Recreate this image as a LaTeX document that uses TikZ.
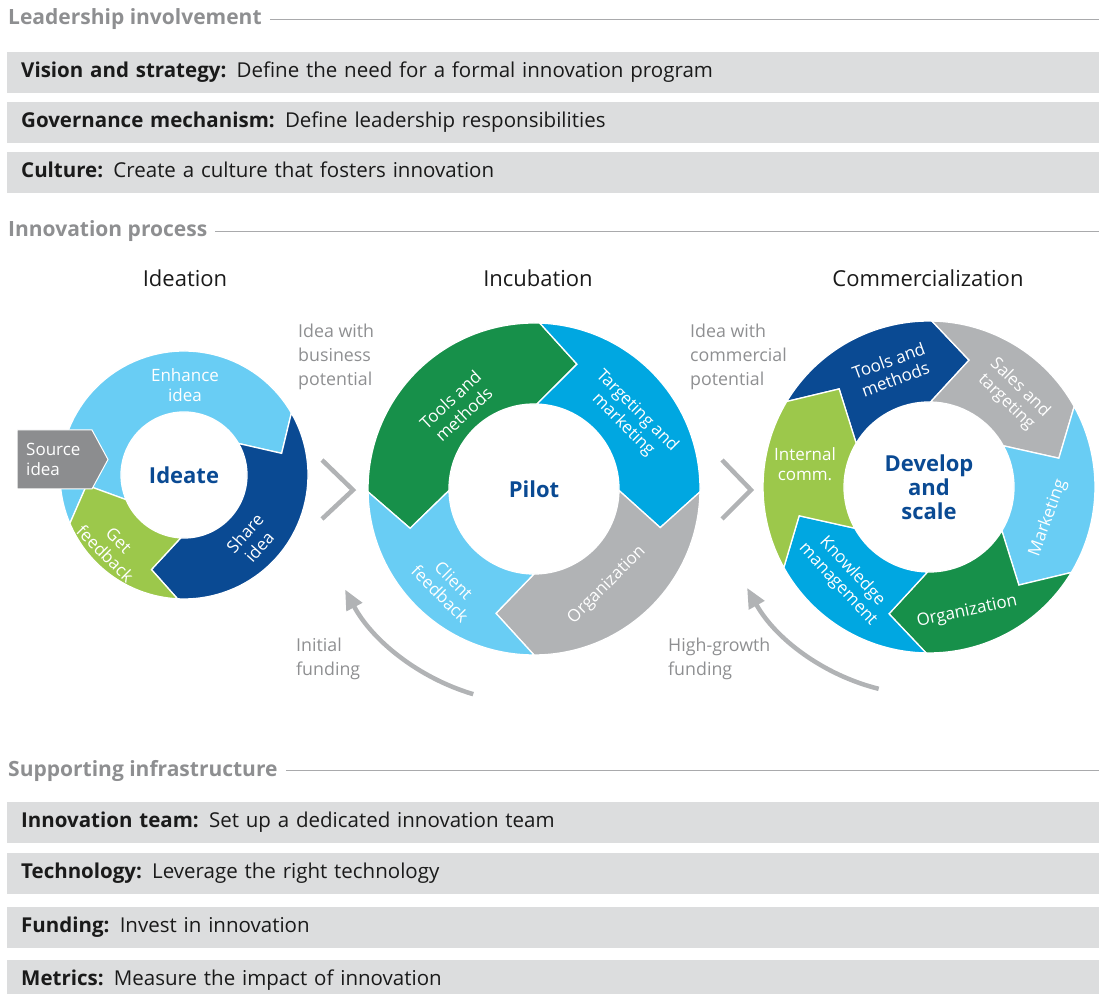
\documentclass[tikz,border=0pt]{standalone}
\usepackage{fontspec}
\setmainfont{Open Sans}
\usetikzlibrary{arrows.meta,calc}
\definecolor{ink}{HTML}{1A1A1A}
\definecolor{muted}{HTML}{8E8F91}
\definecolor{rule}{HTML}{A9AAAC}
\definecolor{band}{HTML}{DCDDDE}
\definecolor{navy}{HTML}{0A4A93}
\definecolor{sky}{HTML}{69CDF4}
\definecolor{azure}{HTML}{00A7E1}
\definecolor{forest}{HTML}{17904A}
\definecolor{leaf}{HTML}{9CC84B}
\definecolor{stone}{HTML}{B1B3B5}
\definecolor{slate}{HTML}{8C8D8F}

\begin{document}
\begin{tikzpicture}[
  x=1pt,y=1pt,
  heading/.style={font=\fontsize{21}{24}\selectfont\bfseries, text=muted,
    inner sep=0pt},
  hrule/.style={draw=rule, line width=1.6pt},
  band/.style={fill=band, anchor=north west, minimum width=1092pt,
    minimum height=41pt, text width=1064pt, inner xsep=14pt, inner ysep=0pt,
    text height=15pt, text depth=4.5pt, align=left, text=ink,
    font=\fontsize{20.5}{24}\selectfont},
  stage/.style={font=\fontsize{22}{26}\selectfont, text=ink},
  seg/.style={draw=white, line width=1.3pt, line join=miter},
  seglabel/.style={font=\fontsize{17}{19.5}\selectfont, text=white,
    align=center, inner sep=0pt},
  hub/.style={font=\fontsize{22}{24}\selectfont\bfseries, text=navy,
    align=center},
  note/.style={font=\fontsize{17.8}{24}\selectfont, text=muted, align=left,
    anchor=west, inner sep=0pt},
  chevron/.style={draw=stone, line width=4.5pt},
  fund/.style={draw=stone, line width=4.5pt,
    -{Triangle[length=20pt,width=17pt]}}
]
\useasboundingbox (0,0) rectangle (1099,993);
\coordinate (edge) at (1099,0);

% Leadership involvement
\node[heading, anchor=base west] (leadhead) at (8,968) {Leadership involvement};
\draw[hrule] ([xshift=8pt]leadhead.east) -- (leadhead.east -| edge);

\node[band] (vision) at (7,941)
  {\textbf{Vision and strategy:} Define the need for a formal innovation program};
\node[band] (governance) at (7,891)
  {\textbf{Governance mechanism:} Define leadership responsibilities};
\node[band] (culture) at (7,841)
  {\textbf{Culture:} Create a culture that fosters innovation};

% Innovation process
\node[heading, anchor=base west] (prochead) at (8,756) {Innovation process};
\draw[hrule] ([xshift=8pt]prochead.east) -- (prochead.east -| edge);

\node[stage] (ideation) at (185,715) {Ideation};
\node[stage] (incubation) at (538,715) {Incubation};
\node[stage] (commercial) at (928,715) {Commercialization};

% Ideation ring
\begin{scope}[shift={(184,518)}]
  \fill[sky, seg] (203:124) arc[start angle=203, end angle=30, radius=124]
    -- (12.5:100) -- (30:63) arc[start angle=30, end angle=203, radius=63]
    -- (186:98) -- cycle;
  \fill[navy, seg] (30:124) arc[start angle=30, end angle=-93, radius=124]
    -- (-109:100) -- (-93:63) arc[start angle=-93, end angle=30, radius=63]
    -- (12.5:100) -- cycle;
  \fill[leaf, seg] (-93:124) arc[start angle=-93, end angle=-157, radius=124]
    -- (-174:98) -- (-157:63) arc[start angle=-157, end angle=-93, radius=63]
    -- (-109:100) -- cycle;
\end{scope}
\fill[slate, draw=white, line width=1pt]
  (17,563) -- (92,563) -- (108,533.5) -- (92,504) -- (17,504) -- cycle;
\node[seglabel, align=left, anchor=west] (source) at (26,533.5) {Source\\idea};
\node[seglabel] (enhance) at (185,608) {Enhance\\idea};
\node[seglabel, rotate=48] (share) at (252,453) {Share\\idea};
\node[seglabel, rotate=-45] (feedback) at (112,446) {Get\\feedback};
\node[hub] (ideate) at (184,518) {Ideate};

\draw[chevron] (322,533) -- (353,503) -- (322,474);

% Incubation ring
\begin{scope}[shift={(534,504)}]
  \fill[forest, seg] (181:166) arc[start angle=181, end angle=88, radius=166]
    -- (71:132) -- (88:85) arc[start angle=88, end angle=181, radius=85]
    -- (197.6:130) -- cycle;
  \fill[azure, seg] (88:166) arc[start angle=88, end angle=-1, radius=166]
    -- (-17:132) -- (-1:85) arc[start angle=-1, end angle=88, radius=85]
    -- (71:132) -- cycle;
  \fill[stone, seg] (-1:166) arc[start angle=-1, end angle=-90, radius=166]
    -- (-107:130) -- (-90:85) arc[start angle=-90, end angle=-1, radius=85]
    -- (-17:132) -- cycle;
  \fill[sky, seg] (-90:166) arc[start angle=-90, end angle=-179, radius=166]
    -- (-162.4:130) -- (-179:85) arc[start angle=-179, end angle=-90, radius=85]
    -- (-107:130) -- cycle;
  \draw[fund] (253.5:214) arc[start angle=253.5, end angle=208, radius=214];
\end{scope}
\node[seglabel, rotate=43] (tools) at (457,586) {Tools and\\methods};
\node[seglabel, rotate=-45] (targeting) at (630,575) {Targeting and\\marketing};
\node[seglabel, rotate=45] (organization) at (607,408) {Organization};
\node[seglabel, rotate=-45] (client) at (447,406) {Client\\feedback};
\node[hub] (pilot) at (534,504) {Pilot};

\draw[chevron] (722,533) -- (751,503) -- (722,474);

% Commercialization ring
\begin{scope}[shift={(929,506)}]
  \fill[navy, seg] (149:166) arc[start angle=149, end angle=89, radius=166]
    -- (72.5:133) -- (89:85) arc[start angle=89, end angle=149, radius=85]
    -- (132.5:133) -- cycle;
  \fill[stone, seg] (89:166) arc[start angle=89, end angle=29, radius=166]
    -- (12.5:133) -- (29:85) arc[start angle=29, end angle=89, radius=85]
    -- (72.5:133) -- cycle;
  \fill[sky, seg] (29:166) arc[start angle=29, end angle=-31, radius=166]
    -- (-47.5:133) -- (-31:85) arc[start angle=-31, end angle=29, radius=85]
    -- (12.5:133) -- cycle;
  \fill[forest, seg] (-31:166) arc[start angle=-31, end angle=-91, radius=166]
    -- (-107.5:133) -- (-91:85) arc[start angle=-91, end angle=-31, radius=85]
    -- (-47.5:133) -- cycle;
  \fill[azure, seg] (-91:166) arc[start angle=-91, end angle=-151, radius=166]
    -- (-167.5:133) -- (-151:85) arc[start angle=-151, end angle=-91, radius=85]
    -- (-107.5:133) -- cycle;
  \fill[leaf, seg] (-151:166) arc[start angle=-151, end angle=-211, radius=166]
    -- (-227.5:133) -- (-211:85) arc[start angle=-211, end angle=-151, radius=85]
    -- (-167.5:133) -- cycle;
  \draw[fund] (256:208) arc[start angle=256, end angle=209, radius=208];
\end{scope}
\node[seglabel, rotate=20] (toolsc) at (892,623) {Tools and\\methods};
\node[seglabel, rotate=-44] (sales) at (1013,598) {Sales and\\targeting};
\node[seglabel, rotate=70] (marketing) at (1048,475) {Marketing};
\node[seglabel, rotate=12] (organizationc) at (967,381) {Organization};
\node[seglabel, rotate=-47] (knowledge) at (845,415) {Knowledge\\management};
\node[seglabel] (internal) at (805,529) {Internal\\comm.};
\node[hub] (develop) at (929,506) {Develop\\and\\scale};

% Side notes
\node[note] (bizidea) at (298,636) {Idea with\\business\\potential};
\node[note] (comidea) at (690,636) {Idea with\\commercial\\potential};
\node[note] (initial) at (296,334) {Initial\\funding};
\node[note] (growth) at (668,334) {High-growth\\funding};

% Supporting infrastructure
\node[heading, anchor=base west] (suphead) at (8,217) {Supporting infrastructure};
\draw[hrule] ([xshift=8pt]suphead.east) -- (suphead.east -| edge);

\node[band] (team) at (7,191)
  {\textbf{Innovation team:} Set up a dedicated innovation team};
\node[band] (technology) at (7,140)
  {\textbf{Technology:} Leverage the right technology};
\node[band] (funding) at (7,86)
  {\textbf{Funding:} Invest in innovation};
\node[band] (metrics) at (7,33)
  {\textbf{Metrics:} Measure the impact of innovation};

\end{tikzpicture}
\end{document}
